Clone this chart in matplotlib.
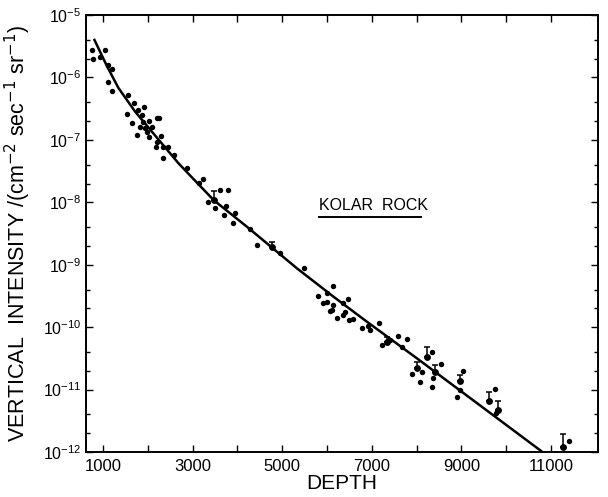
import matplotlib
matplotlib.use("Agg")
import matplotlib.pyplot as plt
import numpy as np
from matplotlib.ticker import LogLocator, NullFormatter, FixedLocator

plt.rcParams['font.family'] = ['Liberation Sans', 'DejaVu Sans']

# ------ measured points (depth, vertical intensity) --------------------------
depth = [752, 766, 1049, 938, 1109, 1212, 1109, 1212, 1556, 1681,
         1920, 1792, 1533, 1868, 1645, 1904, 2038, 2203, 2254, 1815,
         1942, 2092, 1980, 1770, 2016, 2299, 2203, 2181, 2350, 2449,
         2350, 2596, 2886, 3132, 3243, 3616, 3788, 3355, 3467, 3489,
         3750, 3712, 3951, 3913, 4286, 4435, 4770, 4955, 5491, 5810,
         5998, 6145, 5908, 5998, 6145, 6109, 6071, 6355, 6458, 6221,
         6355, 6406, 6502, 6578, 6779, 6926, 6964, 7165, 7225, 7350,
         7411, 7574, 7797, 7672, 7895, 8007, 8118, 8080, 8230, 8342,
         8542, 8415, 8377, 8342, 8958, 9047, 8900, 8973, 9627, 9754,
         9828, 9777, 11279, 11391]
intensity = [2.75e-6, 2.0e-6, 2.8e-6, 2.15e-6, 1.6e-6, 1.35e-6, 8.5e-7, 6.1e-7, 5.2e-7, 3.85e-7,
             3.4e-7, 3.0e-7, 2.57e-7, 2.5e-7, 1.84e-7, 1.95e-7, 2.0e-7, 2.2e-7, 2.2e-7, 1.63e-7,
             1.53e-7, 1.63e-7, 1.35e-7, 1.2e-7, 1.12e-7, 1.17e-7, 9.3e-8, 7.8e-8, 7.8e-8, 7.8e-8,
             5.1e-8, 5.7e-8, 3.6e-8, 2.06e-8, 2.33e-8, 1.57e-8, 1.6e-8, 1.0e-8, 1.09e-8, 8.0e-9,
             8.7e-9, 6.25e-9, 6.7e-9, 4.7e-9, 3.8e-9, 2.07e-9, 1.95e-9, 1.56e-9, 8.8e-10, 3.15e-10,
             3.5e-10, 4.6e-10, 2.4e-10, 2.55e-10, 2.27e-10, 1.88e-10, 1.8e-10, 2.4e-10, 2.8e-10, 1.39e-10,
             1.57e-10, 1.77e-10, 1.3e-10, 1.34e-10, 9.6e-11, 1.04e-10, 9.0e-11, 1.18e-10, 5.2e-11, 5.85e-11,
             6.2e-11, 7.2e-11, 6.4e-11, 4.9e-11, 1.77e-11, 2.2e-11, 1.93e-11, 1.34e-11, 3.37e-11, 3.95e-11,
             2.54e-11, 1.93e-11, 1.52e-11, 1.11e-11, 1.37e-11, 1.98e-11, 7.7e-12, 1.0e-11, 6.6e-12, 1.02e-11,
             4.7e-12, 4.27e-12, 1.22e-12, 1.52e-12]

# ------ points with upper error bars ----------------------------------------
err_depth = [3467, 4770, 7350, 8007, 8230, 8415, 8958, 9627, 9828, 11279]
err_value = [1.09e-8, 1.95e-9, 5.85e-11, 2.2e-11, 3.37e-11, 1.93e-11, 1.37e-11, 6.6e-12, 4.7e-12, 1.22e-12]
err_upper = [1.5e-8, 2.34e-9, 7.0e-11, 2.8e-11, 4.75e-11, 2.5e-11, 1.71e-11, 9.2e-12, 6.6e-12, 1.94e-12]

# ------ fitted curve ---------------------------------------------------------
curve_depth = [810, 1087, 1346, 1719, 2092, 2685, 3467, 4212, 5328, 6145,
               6891, 8007, 10781]
curve_log = [-5.400, -5.817, -6.170, -6.549, -6.869, -7.375, -7.963, -8.391, -9.057, -9.512,
             -9.913, -10.499, -11.984]

yticks = [1e-12, 1e-11, 1e-10, 1e-9, 1e-8, 1e-7, 1e-6, 1e-5]
xticks = list(range(1000, 12000, 1000))
xlabels = [str(t) if (t // 1000) % 2 == 1 else "" for t in xticks]

fig = plt.figure(figsize=(6.08, 4.97), dpi=100)
ax = fig.add_axes([0.1414, 0.0905, 0.8422, 0.8793])

ax.plot(curve_depth, 10.0 ** np.array(curve_log), "-", c="k", lw=1.8)
ax.plot(depth, intensity, "o", c="k", ms=3.9, mec="none")
lower = np.zeros(len(err_value))
upper = np.array(err_upper) - np.array(err_value)
ax.errorbar(err_depth, err_value, yerr=[lower, upper], fmt="o", c="k", ms=3.9,
            elinewidth=1.1, capsize=2.2, capthick=1.1)

ax.set_yscale("log")
ax.set_xlim(620, 12050)
ax.set_ylim(1e-12, 1e-5)
ax.yaxis.set_major_locator(FixedLocator(yticks))
ax.yaxis.set_minor_locator(LogLocator(base=10, subs=(2.0, 4.0), numticks=12))
ax.yaxis.set_minor_formatter(NullFormatter())
ax.set_xticks(xticks)
ax.set_xticklabels(xlabels)

ax.tick_params(which="both", direction="in", top=True, right=True, width=1.0)
ax.tick_params(which="major", length=5, labelsize=11.5)
ax.tick_params(axis="x", which="major", pad=5, labelsize=12)
ax.tick_params(which="minor", length=3)
for s in ax.spines.values():
    s.set_linewidth(1.4)

ax.set_xlabel("DEPTH", fontsize=15, labelpad=0)
ax.set_ylabel(r"VERTICAL  INTENSITY /(cm$^{-2}$ sec$^{-1}$ sr$^{-1}$)", fontsize=15.5, labelpad=7)

ax.text(0.455, 0.547, "KOLAR  ROCK", transform=ax.transAxes, fontsize=11.5, ha="left", va="bottom")
ax.plot([0.455, 0.655], [0.538, 0.538], transform=ax.transAxes, c="k", lw=1.4)

fig.savefig("out.png", dpi=100)
